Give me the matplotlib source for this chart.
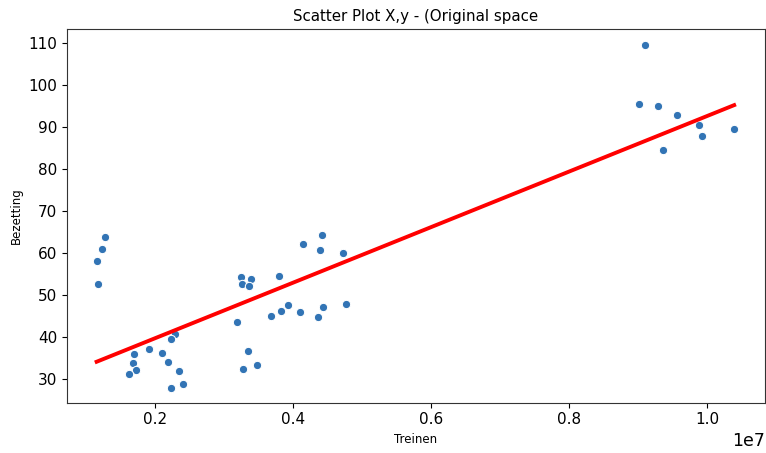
import numpy as np
import matplotlib
matplotlib.use("Agg")
import matplotlib.pyplot as plt

# Treinen (x, in units of 1e7) and Bezetting (y)
treinen = np.array([
    0.127, 0.1231, 0.1154, 0.1169, 0.2292, 0.223, 0.1914, 0.170, 0.2108, 0.1677,
    0.2186, 0.173, 0.1624, 0.2346, 0.2408, 0.223,
    0.4419, 0.4143, 0.4395, 0.472, 0.3247, 0.379, 0.3392, 0.3262, 0.3368, 0.393,
    0.4767, 0.3828, 0.4429, 0.4099, 0.3677, 0.4361, 0.3183, 0.3343, 0.3474, 0.3276,
    0.9095, 0.9007, 0.9294, 0.957, 0.9884, 0.9923, 1.0393, 0.9356,
]) * 1e7
bezetting = np.array([
    63.8, 60.9, 58.1, 52.6, 40.7, 39.6, 37.1, 36.0, 36.2, 33.8,
    34.0, 32.1, 31.3, 31.9, 28.7, 27.8,
    64.3, 62.2, 60.7, 60.0, 54.2, 54.5, 53.8, 52.6, 52.2, 47.6,
    47.8, 46.3, 47.2, 45.9, 45.0, 44.8, 43.5, 36.7, 33.4, 32.5,
    109.6, 95.5, 95.0, 92.9, 90.5, 87.9, 89.5, 84.6,
])

title = "Scatter Plot X,y - (Original space"
xlabel = "Treinen"
ylabel = "Bezetting"

fig = plt.figure(figsize=(7.66, 4.53), dpi=100)
ax = fig.add_axes([0.0875, 0.111, 0.9112, 0.825])

ax.scatter(treinen, bezetting, s=36, color="#3274b5", edgecolor="white", linewidth=0.75, zorder=3)

slope, intercept = np.polyfit(treinen, bezetting, 1)
xs = np.array([treinen.min(), treinen.max()])
ax.plot(xs, slope * xs + intercept, color="red", linewidth=2.8, zorder=4)

ax.set_xlim(0.0725e7, 1.084e7)
ax.set_ylim(24.35, 113.4)
ax.set_xticks([0.2e7, 0.4e7, 0.6e7, 0.8e7, 1.0e7])
ax.set_yticks([30, 40, 50, 60, 70, 80, 90, 100, 110])
ax.tick_params(labelsize=11)
ax.xaxis.get_offset_text().set_fontsize(12.5)
ax.set_title(title, fontsize=10.8)
ax.set_xlabel(xlabel, fontsize=8.5)
ax.set_ylabel(ylabel, fontsize=8.5)
for sp in ax.spines.values():
    sp.set_color("#333333")

fig.savefig("out.png", dpi=100)
